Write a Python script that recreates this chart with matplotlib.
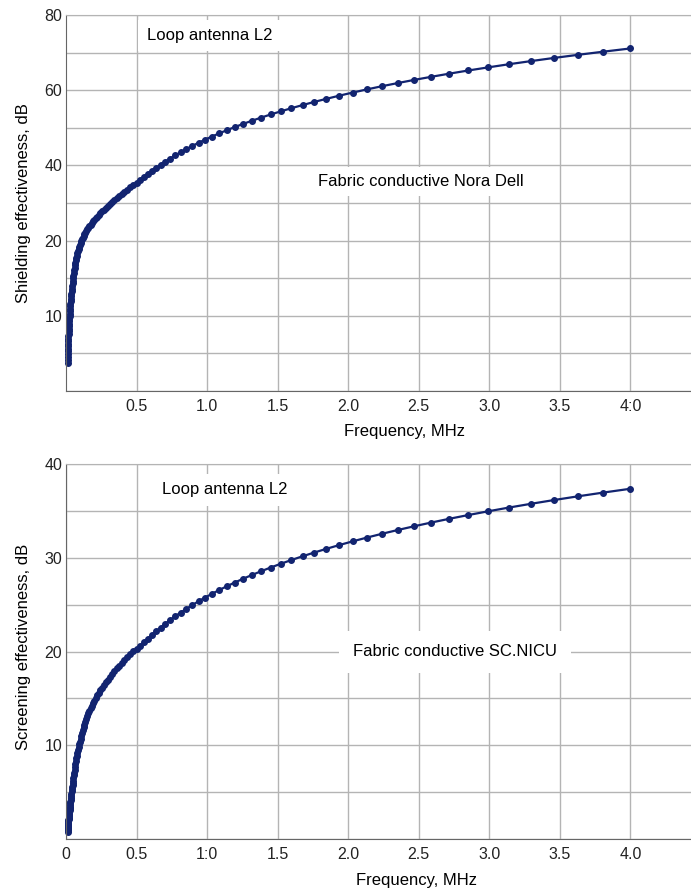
import matplotlib.pyplot as plt
from matplotlib.ticker import FixedLocator, FixedFormatter


# Frequency points of the measurement, MHz
freq = [0.0100, 0.0105, 0.0110, 0.0116, 0.0121, 0.0127, 0.0134, 0.0140, 0.0147, 0.0154,
        0.0162, 0.0170, 0.0179, 0.0187, 0.0197, 0.0206, 0.0217, 0.0227, 0.0239, 0.0250,
        0.0263, 0.0276, 0.0289, 0.0304, 0.0319, 0.0335, 0.0351, 0.0369, 0.0387, 0.0406,
        0.0426, 0.0447, 0.0469, 0.0493, 0.0517, 0.0542, 0.0569, 0.0598, 0.0627, 0.0658,
        0.0691, 0.0725, 0.0761, 0.0798, 0.0838, 0.0879, 0.0923, 0.0969, 0.1017, 0.1067,
        0.1120, 0.1175, 0.1233, 0.1294, 0.1359, 0.1426, 0.1496, 0.1570, 0.1648, 0.1730,
        0.1815, 0.1905, 0.2000, 0.2099, 0.2203, 0.2312, 0.2426, 0.2546, 0.2672, 0.2804,
        0.2943, 0.3089, 0.3242, 0.3402, 0.3571, 0.3747, 0.3933, 0.4128, 0.4332, 0.4546,
        0.4771, 0.5008, 0.5255, 0.5516, 0.5789, 0.6075, 0.6376, 0.6691, 0.7023, 0.7370,
        0.7735, 0.8118, 0.8520, 0.8941, 0.9384, 0.9848, 1.0336, 1.0847, 1.1384, 1.1948,
        1.2539, 1.3160, 1.3811, 1.4495, 1.5212, 1.5965, 1.6756, 1.7585, 1.8456, 1.9369,
        2.0328, 2.1334, 2.2390, 2.3499, 2.4662, 2.5883, 2.7164, 2.8509, 2.9920, 3.1401,
        3.2956, 3.4587, 3.6299, 3.8096, 3.9982]

# Shielding effectiveness, fabric Nora Dell, dB
se_nora = [-12.5, -11.74, -10.98, -10.2, -9.45, -8.75, -8.09, -7.43, -6.77, -6.1,
           -5.43, -4.76, -4.08, -3.41, -2.74, -2.08, -1.43, -0.78, -0.13, 0.52,
           1.18, 1.84, 2.5, 3.17, 3.84, 4.51, 5.18, 5.85, 6.53, 7.21,
           7.9, 8.6, 9.29, 9.98, 10.67, 11.36, 12.05, 12.74, 13.4, 14.06,
           14.72, 15.35, 15.96, 16.57, 17.15, 17.72, 18.28, 18.83, 19.36, 19.84,
           20.31, 20.79, 21.24, 21.67, 22.1, 22.53, 22.98, 23.4, 23.82, 24.24,
           24.66, 25.08, 25.5, 25.95, 26.4, 26.85, 27.3, 27.78, 28.26, 28.74,
           29.22, 29.71, 30.23, 30.75, 31.27, 31.79, 32.31, 32.91, 33.54, 34.17,
           34.8, 35.42, 36.19, 36.96, 37.73, 38.48, 39.31, 40.15, 40.98, 41.82,
           42.66, 43.49, 44.33, 45.17, 46.0, 46.84, 47.67, 48.51, 49.34, 50.18,
           51.02, 51.85, 52.69, 53.53, 54.36, 55.2, 56.03, 56.87, 57.7, 58.54,
           59.37, 60.21, 61.05, 61.88, 62.72, 63.55, 64.39, 65.23, 66.06, 66.9,
           67.73, 68.57, 69.4, 70.24, 71.08]

# Screening effectiveness, fabric SC.NICU, dB
se_nicu = [0.8, 0.92, 1.04, 1.16, 1.28, 1.4, 1.51, 1.63, 1.75, 1.88,
           2.01, 2.15, 2.28, 2.42, 2.55, 2.69, 2.84, 2.98, 3.13, 3.27,
           3.42, 3.59, 3.8, 4.0, 4.2, 4.41, 4.62, 4.85, 5.09, 5.32,
           5.56, 5.78, 6.0, 6.23, 6.49, 6.79, 7.08, 7.37, 7.67, 7.98,
           8.28, 8.59, 8.88, 9.18, 9.48, 9.78, 10.09, 10.39, 10.7, 11.0,
           11.31, 11.62, 11.92, 12.21, 12.51, 12.81, 13.1, 13.4, 13.67, 13.94,
           14.21, 14.48, 14.76, 15.03, 15.31, 15.59, 15.87, 16.15, 16.43, 16.72,
           17.01, 17.31, 17.6, 17.9, 18.2, 18.5, 18.8, 19.11, 19.42, 19.72,
           20.01, 20.3, 20.62, 20.97, 21.34, 21.74, 22.14, 22.56, 22.96, 23.36,
           23.76, 24.16, 24.56, 24.96, 25.36, 25.76, 26.16, 26.56, 26.96, 27.36,
           27.76, 28.16, 28.56, 28.96, 29.36, 29.76, 30.16, 30.56, 30.96, 31.36,
           31.76, 32.16, 32.56, 32.96, 33.36, 33.76, 34.16, 34.56, 34.96, 35.36,
           35.76, 36.16, 36.56, 36.96, 37.36]

# Axis ticks and their labels
top_xticks = [0.5, 1.0, 1.5, 2.0, 2.5, 3.0, 3.5, 4.0]
top_xlabels = ['0.5', '1.0', '1.5', '2.0', '2.5', '3.0', '3.5', '4:0']
top_yticks = [-20, -10, 0, 10, 20, 30, 40, 50, 60, 70, 80]
top_ylabels = ['', '', '10', '', '20', '', '40', '', '60', '', '80']

bot_xticks = [0, 0.5, 1.0, 1.5, 2.0, 2.5, 3.0, 3.5, 4.0]
bot_xlabels = ['0', '0.5', '1:0', '1.5', '2.0', '2.5', '3.0', '3.5', '4.0']
bot_yticks = [0, 5, 10, 15, 20, 25, 30, 35, 40]
bot_ylabels = ['', '', '10', '', '20', '', '30', '', '40']

plt.rcParams['font.family'] = ['Liberation Sans', 'DejaVu Sans']

line_color = '#122470'
grid_color = '#b4b4b4'

fig = plt.figure(figsize=(6.91, 8.90), dpi=100)
ax1 = fig.add_axes([0.0958, 0.5607, 0.9042, 0.4225])
ax2 = fig.add_axes([0.0958, 0.0573, 0.9042, 0.4213])


def style_axes(ax, xticks, xlabels, yticks, ylabels, ylim):
    ax.set_xlim(0, 4.43)
    ax.set_ylim(*ylim)
    ax.xaxis.set_major_locator(FixedLocator(xticks))
    ax.xaxis.set_major_formatter(FixedFormatter(xlabels))
    ax.yaxis.set_major_locator(FixedLocator(yticks))
    ax.yaxis.set_major_formatter(FixedFormatter(ylabels))
    ax.tick_params(axis='both', length=0, labelsize=11.5, colors='#222222')
    ax.tick_params(axis='x', pad=6)
    ax.tick_params(axis='y', pad=3)
    ax.grid(True, color=grid_color, linewidth=1.0)
    ax.spines['right'].set_visible(False)
    ax.spines['top'].set_color(grid_color)
    ax.spines['left'].set_color('#666666')
    ax.spines['bottom'].set_color('#666666')


# Top chart: Nora Dell
style_axes(ax1, top_xticks, top_xlabels, top_yticks, top_ylabels, (-20, 80))
ax1.plot(freq, se_nora, '-o', color=line_color, lw=1.6, ms=4.0, clip_on=False)
ax1.set_xlabel('Frequency, MHz', fontsize=12)
ax1.set_ylabel('Shielding effectiveness, dB', fontsize=12)
ax1.xaxis.set_label_coords(0.541, -0.088)
ax1.yaxis.set_label_coords(-0.056, 0.5)
ax1.text(0.229, 0.945, 'Loop antenna L2', transform=ax1.transAxes, fontsize=12,
         ha='center', va='center', bbox=dict(facecolor='white', edgecolor='none', pad=6))
ax1.text(0.567, 0.556, 'Fabric conductive Nora Dell', transform=ax1.transAxes,
         fontsize=12, ha='center', va='center',
         bbox=dict(facecolor='white', edgecolor='none', pad=5))

# Bottom chart: SC.NICU
style_axes(ax2, bot_xticks, bot_xlabels, bot_yticks, bot_ylabels, (0, 40))
ax2.plot(freq, se_nicu, '-o', color=line_color, lw=1.6, ms=4.0, clip_on=False)
ax2.set_xlabel('Frequency, MHz', fontsize=12)
ax2.set_ylabel('Screening effectiveness, dB', fontsize=12)
ax2.xaxis.set_label_coords(0.56, -0.092)
ax2.yaxis.set_label_coords(-0.056, 0.513)
ax2.text(0.253, 0.931, 'Loop antenna L2', transform=ax2.transAxes, fontsize=12,
         ha='center', va='center', bbox=dict(facecolor='white', edgecolor='none', pad=6))
ax2.text(0.622, 0.499, 'Fabric conductive SC.NICU', transform=ax2.transAxes,
         fontsize=12, ha='center', va='center',
         bbox=dict(facecolor='white', edgecolor='none', pad=10))

fig.savefig('out.png', dpi=100)
